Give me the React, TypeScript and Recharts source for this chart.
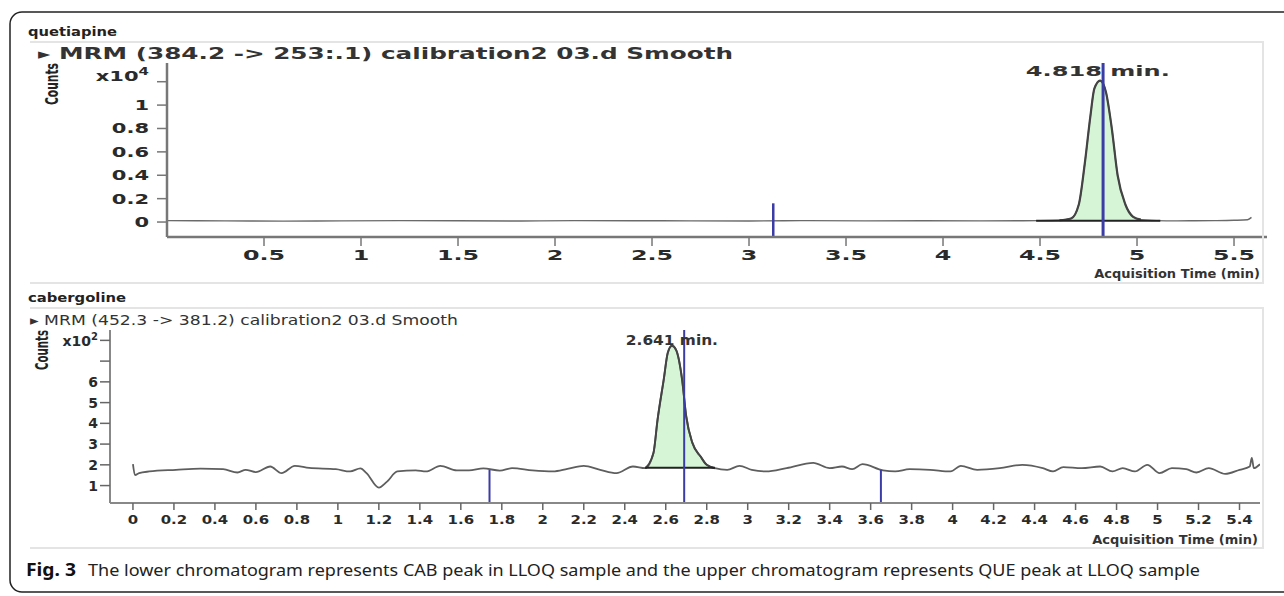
import React from 'react'
import {
  ComposedChart,
  Line,
  Area,
  XAxis,
  YAxis,
  ReferenceLine,
  ReferenceDot,
} from 'recharts'

// quetiapine trace, counts in x10^4
const queTime = [
  0.0, 0.3, 0.6, 0.9, 1.2, 1.5, 1.8, 2.1, 2.4, 2.7, 3.0, 3.3, 3.6, 3.9, 4.2,
  4.5, 4.6, 4.66, 4.7, 4.73, 4.76, 4.78, 4.81, 4.84, 4.87, 4.9, 4.94, 4.98,
  5.02, 5.1, 5.2, 5.3, 5.4, 5.5, 5.57, 5.59,
]
const queCounts = [
  0.012, 0.01, 0.008, 0.01, 0.012, 0.011, 0.009, 0.012, 0.011, 0.01, 0.009,
  0.012, 0.01, 0.011, 0.01, 0.012, 0.015, 0.03, 0.15, 0.49, 0.91, 1.14, 1.21,
  1.11, 0.8, 0.4, 0.15, 0.045, 0.02, 0.012, 0.01, 0.011, 0.012, 0.015, 0.02,
  0.04,
]
const quePeak = { start: 4.6, end: 5.02, base: 0.01, rt: 4.818, label: '4.818 min.' }
const queXTicks = [0.5, 1, 1.5, 2, 2.5, 3, 3.5, 4, 4.5, 5, 5.5]
const queYTicks = [0, 0.2, 0.4, 0.6, 0.8, 1, 1.2]
const queMarkers = [3.125]

// cabergoline trace, counts in x10^2
const cabTime = [
  0.0, 0.01, 0.03, 0.08, 0.21, 0.33, 0.44, 0.51, 0.55, 0.6, 0.67, 0.725, 0.79,
  0.86, 0.99, 1.06, 1.11, 1.14, 1.2, 1.24, 1.29, 1.38, 1.43, 1.5, 1.58, 1.64,
  1.71, 1.79, 1.85, 1.95, 2.05, 2.12, 2.2, 2.28, 2.36, 2.44, 2.5, 2.54, 2.56,
  2.59, 2.61, 2.63, 2.65, 2.68, 2.7, 2.73, 2.77, 2.8, 2.84, 2.9, 2.96, 3.02,
  3.09, 3.19, 3.32, 3.4, 3.46, 3.51, 3.56, 3.66, 3.72, 3.79, 3.89, 3.99, 4.04,
  4.12, 4.23, 4.34, 4.44, 4.49, 4.54, 4.63, 4.72, 4.78, 4.83, 4.89, 4.95, 5.01,
  5.07, 5.14, 5.19, 5.25, 5.33, 5.4, 5.45, 5.46, 5.47, 5.5,
]
const cabCounts = [
  2.03, 1.5, 1.6, 1.68, 1.76, 1.82, 1.79, 1.63, 1.76, 1.65, 1.92, 1.6, 1.95,
  1.85, 1.79, 1.68, 1.83, 1.6, 0.9, 1.19, 1.68, 1.73, 1.68, 1.95, 1.73, 1.73,
  1.83, 1.72, 1.84, 1.73, 1.68, 1.8, 1.95, 1.76, 1.6, 1.92, 1.84, 2.57, 4.17,
  6.1, 7.4, 7.74, 7.55, 6.1, 4.33, 3.06, 2.4, 2.0, 1.84, 1.76, 1.95, 1.76,
  1.68, 1.84, 2.09, 1.84, 1.92, 1.79, 2.03, 1.73, 1.68, 1.79, 1.76, 1.68, 1.95,
  1.76, 1.84, 2.0, 1.84, 1.68, 1.89, 1.84, 1.92, 1.68, 1.84, 1.68, 2.0, 1.6,
  1.84, 1.79, 1.63, 1.84, 1.56, 1.76, 1.92, 2.33, 1.84, 2.03,
]
const cabPeak = { start: 2.5, end: 2.84, base: 1.86, rt: 2.63, label: '2.641 min.' }
const cabXTicks = [
  0, 0.2, 0.4, 0.6, 0.8, 1, 1.2, 1.4, 1.6, 1.8, 2, 2.2, 2.4, 2.6, 2.8, 3, 3.2,
  3.4, 3.6, 3.8, 4, 4.2, 4.4, 4.6, 4.8, 5, 5.2, 5.4,
]
const cabYTicks = [1, 2, 3, 4, 5, 6, 7, 8]
const cabMarkers = [1.74, 3.65]
const cabRtLine = 2.69

const BLUE = '#3c3ca6'
const FONT = 'DejaVu Sans, Verdana, sans-serif'

const buildRows = (time: number[], counts: number[], peak: typeof quePeak) =>
  time.map((t, i) => {
    const inPeak = t >= peak.start && t <= peak.end
    return {
      t,
      v: counts[i],
      peak: inPeak ? counts[i] : null,
      fill: inPeak ? [peak.base, counts[i]] : null,
    }
  })

const queRows = buildRows(queTime, queCounts, quePeak)
const cabRows = buildRows(cabTime, cabCounts, cabPeak)

const TopXTick = (props: any) => {
  const { x, y, payload } = props
  return (
    <text
      transform={`translate(${x},${y + 12}) scale(1.7,1)`}
      textAnchor="middle"
      fontFamily={FONT}
      fontWeight="bold"
      fontSize={14}
      fill="#2a2a2a"
    >
      {String(payload.value)}
    </text>
  )
}

const TopYTick = (props: any) => {
  const { x, y, payload } = props
  if (payload.value === 1.2) {
    return (
      <text
        transform={`translate(${x},${y - 1}) scale(1.5,1)`}
        textAnchor="end"
        fontFamily={FONT}
        fontWeight="bold"
        fontSize={14}
        fill="#2a2a2a"
      >
        x10<tspan dy={-6} fontSize={10}>4</tspan>
      </text>
    )
  }
  return (
    <text
      transform={`translate(${x},${y + 5}) scale(1.5,1)`}
      textAnchor="end"
      fontFamily={FONT}
      fontWeight="bold"
      fontSize={14}
      fill="#2a2a2a"
    >
      {String(payload.value)}
    </text>
  )
}

const BottomXTick = (props: any) => {
  const { x, y, payload } = props
  return (
    <text
      transform={`translate(${x},${y + 12}) scale(1.15,1)`}
      textAnchor="middle"
      fontFamily={FONT}
      fontWeight="bold"
      fontSize={13}
      fill="#2a2a2a"
    >
      {String(payload.value)}
    </text>
  )
}

const BottomYTick = (props: any) => {
  const { x, y, payload } = props
  if (payload.value === 7) return <g />
  if (payload.value === 8) {
    return (
      <text x={x} y={y + 6} textAnchor="end" fontFamily={FONT} fontWeight="bold" fontSize={14} fill="#2a2a2a">
        x10<tspan dy={-6} fontSize={10}>2</tspan>
      </text>
    )
  }
  return (
    <text x={x} y={y + 5} textAnchor="end" fontFamily={FONT} fontWeight="bold" fontSize={14} fill="#2a2a2a">
      {String(payload.value)}
    </text>
  )
}

const PeakLabel = ({ viewBox, text, scale, size, dy }: any) => {
  const cx = viewBox.x + viewBox.width / 2
  const cy = viewBox.y + viewBox.height / 2
  return (
    <text
      transform={`translate(${cx},${cy + dy}) scale(${scale},1)`}
      textAnchor="middle"
      fontFamily={FONT}
      fontWeight="bold"
      fontSize={size}
      fill="#333"
    >
      {text}
    </text>
  )
}

export default function App() {
  return (
    <div
      style={{
        position: 'fixed',
        left: 0,
        top: 0,
        width: 1284,
        height: 596,
        overflow: 'hidden',
        background: '#fff',
      }}
    >
      <div style={{ position: 'absolute', left: 0, top: 0 }}>
        <ComposedChart
          width={1284}
          height={300}
          data={queRows}
          margin={{ top: 63, right: 17, left: 107, bottom: 33 }}
        >
          <XAxis
            type="number"
            dataKey="t"
            domain={[0, 5.67]}
            ticks={queXTicks}
            interval={0}
            allowDataOverflow
            height={30}
            tickSize={9}
            tickMargin={2}
            axisLine={{ stroke: '#777', strokeWidth: 2.5 }}
            tickLine={{ stroke: '#777', strokeWidth: 1.5 }}
            tick={TopXTick}
          />
          <YAxis
            type="number"
            domain={[-0.128, 1.36]}
            ticks={queYTicks}
            interval={0}
            allowDataOverflow
            width={60}
            tickSize={10}
            tickMargin={8}
            axisLine={{ stroke: '#777', strokeWidth: 2.5 }}
            tickLine={{ stroke: '#777', strokeWidth: 1.5 }}
            tick={TopYTick}
          />
          <Area
            dataKey="fill"
            stroke="none"
            fill="#d6f5d6"
            fillOpacity={1}
            type="monotone"
            isAnimationActive={false}
          />
          <Line
            dataKey="v"
            stroke="#6a6a6a"
            strokeWidth={1.4}
            dot={false}
            type="monotone"
            isAnimationActive={false}
          />
          <Line
            dataKey="peak"
            stroke="#444"
            strokeWidth={2.2}
            dot={false}
            type="monotone"
            connectNulls={false}
            isAnimationActive={false}
          />
          <ReferenceLine
            segment={[
              { x: 4.48, y: quePeak.base },
              { x: 5.12, y: quePeak.base },
            ]}
            stroke="#222"
            strokeWidth={2}
          />
          {queMarkers.map((m) => (
            <ReferenceLine
              key={m}
              segment={[
                { x: m, y: -0.128 },
                { x: m, y: 0.16 },
              ]}
              stroke={BLUE}
              strokeWidth={2.5}
            />
          ))}
          <ReferenceLine x={4.825} stroke={BLUE} strokeWidth={3} />
          <ReferenceDot
            x={quePeak.rt - 0.02}
            y={1.28}
            r={0}
            stroke="none"
            fill="none"
            label={<PeakLabel text={quePeak.label} scale={1.72} size={14} dy={4} />}
          />
        </ComposedChart>
      </div>

      <div style={{ position: 'absolute', left: 0, top: 270 }}>
        <ComposedChart
          width={1284}
          height={300}
          data={cabRows}
          margin={{ top: 60, right: 24, left: 50, bottom: 37 }}
        >
          <XAxis
            type="number"
            dataKey="t"
            domain={[-0.112, 5.5]}
            ticks={cabXTicks}
            interval={0}
            allowDataOverflow
            height={30}
            tickSize={7}
            tickMargin={2}
            axisLine={{ stroke: '#888', strokeWidth: 2 }}
            tickLine={{ stroke: '#666', strokeWidth: 1.5 }}
            tick={BottomXTick}
          />
          <YAxis
            type="number"
            domain={[0.16, 8.5]}
            ticks={cabYTicks}
            interval={0}
            allowDataOverflow
            width={60}
            tickSize={10}
            tickMargin={2}
            axisLine={{ stroke: '#888', strokeWidth: 2 }}
            tickLine={{ stroke: '#666', strokeWidth: 1.5 }}
            tick={BottomYTick}
          />
          <Area
            dataKey="fill"
            stroke="none"
            fill="#d6f5d6"
            fillOpacity={1}
            type="monotone"
            isAnimationActive={false}
          />
          <Line
            dataKey="v"
            stroke="#5e5e5e"
            strokeWidth={1.8}
            dot={false}
            type="monotone"
            isAnimationActive={false}
          />
          <Line
            dataKey="peak"
            stroke="#444"
            strokeWidth={2}
            dot={false}
            type="monotone"
            connectNulls={false}
            isAnimationActive={false}
          />
          <ReferenceLine
            segment={[
              { x: cabPeak.start, y: cabPeak.base },
              { x: cabPeak.end, y: cabPeak.base },
            ]}
            stroke="#222"
            strokeWidth={2}
          />
          {cabMarkers.map((m) => (
            <ReferenceLine
              key={m}
              segment={[
                { x: m, y: 0.16 },
                { x: m, y: 1.75 },
              ]}
              stroke={BLUE}
              strokeWidth={2}
            />
          ))}
          <ReferenceLine x={cabRtLine} stroke={BLUE} strokeWidth={2} />
          <ReferenceDot
            x={cabPeak.rt}
            y={8.0}
            r={0}
            stroke="none"
            fill="none"
            label={<PeakLabel text={cabPeak.label} scale={1.1} size={14} dy={5} />}
          />
        </ComposedChart>
      </div>

      <svg
        width={1284}
        height={596}
        style={{ position: 'absolute', left: 0, top: 0, pointerEvents: 'none' }}
      >
        <rect x={10} y={12} width={1320} height={580} rx={12} fill="none" stroke="#222" strokeWidth={1.5} />

        <g stroke="#e4e4e4" strokeWidth={2} fill="none">
          <path d="M30 42 H1263 V283 H30" />
          <path d="M30 308 H1263 V548 H30" />
        </g>

        <text x={28} y={36} fontFamily={FONT} fontWeight="bold" fontSize={12} fill="#222" textLength={89} lengthAdjust="spacingAndGlyphs">
          quetiapine
        </text>
        <text x={38} y={59} fontFamily={FONT} fontSize={15} fontWeight="600" fill="#333" textLength={695} lengthAdjust="spacingAndGlyphs">
          ▸ MRM (384.2 -&gt; 253:.1) calibration2 03.d  Smooth
        </text>
        <text
          transform="translate(58,84) rotate(-90)"
          textAnchor="middle"
          fontFamily="DejaVu Sans Condensed, DejaVu Sans, sans-serif"
          fontWeight="bold"
          fontSize={18}
          fill="#222"
          textLength={42}
          lengthAdjust="spacingAndGlyphs"
        >
          Counts
        </text>
        <text x={1260} y={278} textAnchor="end" fontFamily={FONT} fontWeight="bold" fontSize={13} fill="#333">
          Acquisition Time (min)
        </text>

        <text x={28} y={302} fontFamily={FONT} fontWeight="bold" fontSize={13} fill="#222" textLength={98} lengthAdjust="spacingAndGlyphs">
          cabergoline
        </text>
        <text x={30} y={325} fontFamily={FONT} fontSize={13.5} fill="#333" textLength={428} lengthAdjust="spacingAndGlyphs">
          ▸ MRM (452.3 -&gt; 381.2) calibration2 03.d  Smooth
        </text>
        <text
          transform="translate(48,350) rotate(-90)"
          textAnchor="middle"
          fontFamily="DejaVu Sans Condensed, DejaVu Sans, sans-serif"
          fontWeight="bold"
          fontSize={17}
          fill="#222"
          textLength={40}
          lengthAdjust="spacingAndGlyphs"
        >
          Counts
        </text>
        <text x={1258} y={544} textAnchor="end" fontFamily={FONT} fontWeight="bold" fontSize={13} fill="#333">
          Acquisition Time (min)
        </text>

        <text x={26} y={576} fontFamily="Noto Sans, sans-serif" fontWeight="bold" fontSize={17} fill="#111" textLength={50} lengthAdjust="spacingAndGlyphs">
          Fig. 3
        </text>
        <text x={88} y={576} fontFamily="Noto Sans, sans-serif" fontSize={17} fill="#222" textLength={1112} lengthAdjust="spacingAndGlyphs">
          The lower chromatogram represents CAB peak in LLOQ sample and the upper chromatogram represents QUE peak at LLOQ sample
        </text>
      </svg>
    </div>
  )
}
